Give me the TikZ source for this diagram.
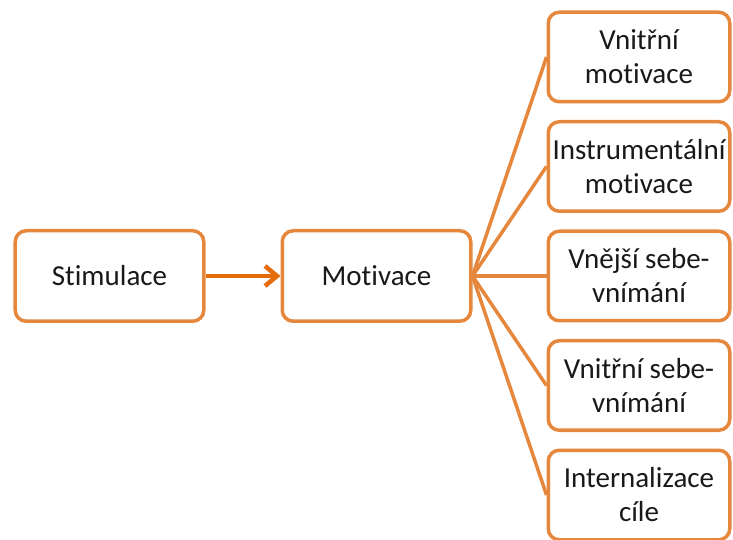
\documentclass[tikz,border=0pt]{standalone}
\usepackage{fontspec}
\setmainfont{Carlito}[Ligatures=NoCommon]
\usepackage{tikz}
\usetikzlibrary{positioning}
\usetikzlibrary{arrows.meta}
\definecolor{boxline}{RGB}{229,136,62}
\definecolor{arrowline}{RGB}{228,108,10}
\definecolor{boxtext}{RGB}{25,25,25}

\begin{document}
\begin{tikzpicture}[node distance=109.5pt,on grid,
  box/.style={draw=boxline,line width=3.5pt,rounded corners=11pt,fill=white,
    text=boxtext,align=center,font=\fontsize{29}{34}\selectfont},
  mainbox/.style={box,minimum width=188.5pt,minimum height=90.5pt},
  sidebox/.style={box,minimum width=181.5pt,minimum height=89.5pt}]
   \useasboundingbox (-109.5pt,-264pt) rectangle (623.5pt,276pt);
   \node[mainbox] (stim) {Stimulace};
   \node[mainbox] (motiv) [right=267pt of stim] {Motivace};
   \node[sidebox] (ext) [right=262.5pt of motiv] {Vnější sebe-\\vnímání};
   \node[sidebox] (instr) [above=of ext] {Instrumentální\\motivace};
   \node[sidebox] (intr) [above=of instr] {Vnitřní\\motivace};
   \node[sidebox] (inself) [below=of ext] {Vnitřní sebe-\\vnímání};
   \node[sidebox] (goal) [below=of inself] {Internalizace\\cíle};
    \path[-{Straight Barb[length=12pt,width=20pt]},draw=arrowline,line width=4.5pt]
    (stim) edge (motiv);
    \path[draw=boxline,line width=3.5pt]
    (motiv.east) edge (intr.west)
                 edge (instr.west)
                 edge (ext.west)
                 edge (inself.west)
                 edge (goal.west);
\end{tikzpicture}
\end{document}
